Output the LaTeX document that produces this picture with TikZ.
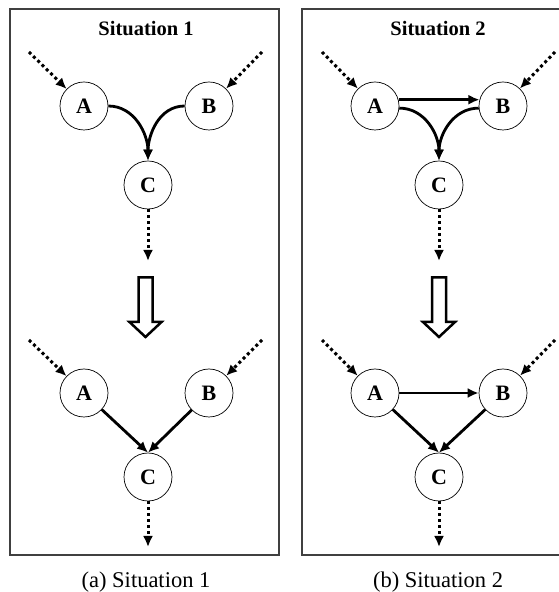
\documentclass[tikz,border=0pt]{standalone}
\usepackage{fontspec}
\setmainfont{Liberation Serif}
\usetikzlibrary{arrows.meta}
\tikzset{
  state/.style={circle,draw,line width=0.7pt,minimum size=48pt,inner sep=0pt,font=\fontsize{22}{26}\selectfont\bfseries},
  flow/.style={-{Latex[length=11pt,width=10pt]},line width=2.8pt},
  feed/.style={-{Latex[length=11pt,width=10pt]},line width=3pt,dash pattern=on 3pt off 3pt},
  panel/.style={draw=black!75,line width=1.2pt},
  heading/.style={font=\fontsize{20.5}{24}\selectfont\bfseries},
  caption/.style={font=\fontsize{22.5}{26}\selectfont},
  hollow/.style={draw,line width=2.5pt,fill=white,line join=miter},
}

\begin{document}
\begin{tikzpicture}[x=1pt,y=1pt]
    \useasboundingbox (0,0) rectangle (558,592);
    % left panel: A and B both feed C
    \begin{scope}
        \draw[panel] (10,37) rectangle (279,583);
        \node[heading] (title1) at (146,563.5) {Situation 1};
        \node[state] (A1) at (84,486) {A};
        \node[state] (B1) at (209,486) {B};
        \node[state] (C1) at (148,407) {C};
        \coordinate (inA1) at (29,540);
        \coordinate (inB1) at (262,540);
        \coordinate (out1) at (148,331);
        \draw[feed] (inA1) -- (A1);
        \draw[feed] (inB1) -- (B1);
        \draw[feed] (C1.south) -- (out1);
        \draw[flow] (A1.east) to[out=0,in=90] (C1.north);
        \draw[flow] (B1.west) to[out=180,in=90] (C1.north);
        % big hollow arrow
        \draw[hollow] (138.5,314.5) -- (152.5,314.5) -- (152.5,270) -- (161.5,270) -- (145.5,255) -- (129.5,270) -- (138.5,270) -- cycle;
        \node[state] (A2) at (84,199) {A};
        \node[state] (B2) at (209,199) {B};
        \node[state] (C2) at (148,115) {C};
        \coordinate (inA2) at (29,252);
        \coordinate (inB2) at (262,252);
        \coordinate (out2) at (148,45);
        \draw[feed] (inA2) -- (A2);
        \draw[feed] (inB2) -- (B2);
        \draw[feed] (C2.south) -- (out2);
        \draw[flow] (A2) -- (C2.north);
        \draw[flow] (B2) -- (C2.north);
        \node[caption] (cap1) at (146,10) {(a) Situation 1};
    \end{scope}
    % right panel: A also feeds B
    \begin{scope}[xshift=292pt]
        \draw[panel] (10,37) rectangle (279,583);
        \node[heading] (title2) at (146,563.5) {Situation 2};
        \node[state] (A3) at (83,486) {A};
        \node[state] (B3) at (211,486) {B};
        \node[state] (C3) at (147,407) {C};
        \coordinate (inA3) at (30,540);
        \coordinate (inB3) at (263,540);
        \coordinate (out3) at (147,331);
        \draw[feed] (inA3) -- (A3);
        \draw[feed] (inB3) -- (B3);
        \draw[feed] (C3.south) -- (out3);
        \draw[flow] (A3.15) -- (B3.165);
        \draw[flow] (A3.-5) to[out=0,in=90] (C3.north);
        \draw[flow] (B3.185) to[out=180,in=90] (C3.north);
        \draw[hollow] (140,314.5) -- (154,314.5) -- (154,270) -- (163,270) -- (147,255) -- (131,270) -- (140,270) -- cycle;
        \node[state] (A4) at (83,199) {A};
        \node[state] (B4) at (211,199) {B};
        \node[state] (C4) at (147,115) {C};
        \coordinate (inA4) at (30,252);
        \coordinate (inB4) at (263,252);
        \coordinate (out4) at (147,45);
        \draw[feed] (inA4) -- (A4);
        \draw[feed] (inB4) -- (B4);
        \draw[feed] (C4.south) -- (out4);
        \draw[flow] (A4) -- (B4);
        \draw[flow] (A4) -- (C4.north);
        \draw[flow] (B4) -- (C4.north);
        \node[caption] (cap2) at (146,10) {(b) Situation 2};
    \end{scope}
\end{tikzpicture}
\end{document}
